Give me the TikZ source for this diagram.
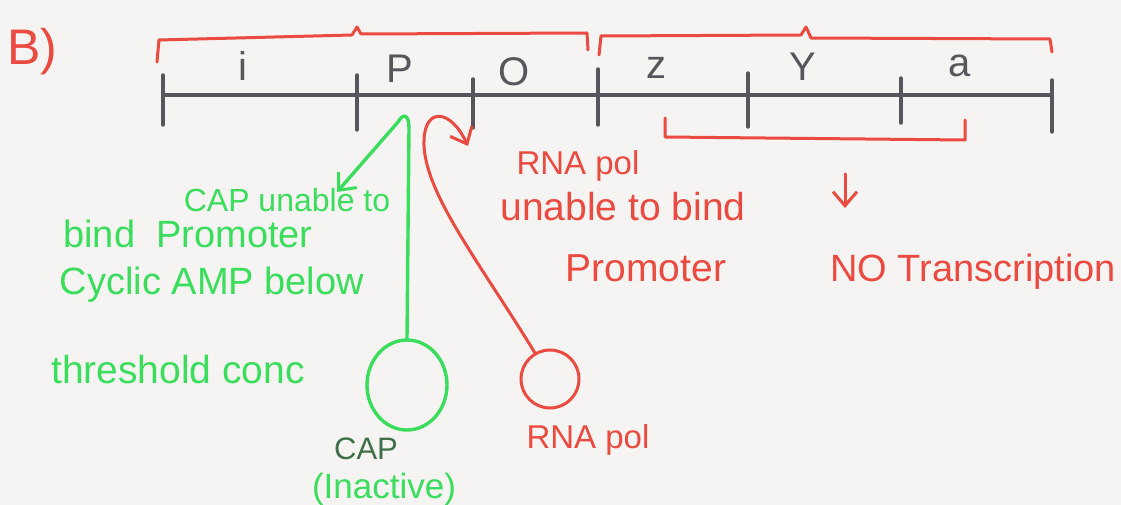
\documentclass[tikz,border=0pt]{standalone}
\usepackage{fontspec}
\setmainfont{Liberation Sans}
\usetikzlibrary{arrows.meta,shapes.geometric}
\definecolor{penred}{RGB}{234,74,64}
\definecolor{pengreen}{RGB}{58,222,92}
\definecolor{pengray}{RGB}{88,86,92}
\definecolor{capdark}{RGB}{62,112,72}
\definecolor{paper}{RGB}{245,244,242}
\begin{document}
\begin{tikzpicture}[x=1pt,y=-1pt,
  fs/.style={font=\fontsize{#1}{#1}\selectfont},
  txt/.style={inner sep=0pt},
  redtxt/.style={txt,text=penred},
  greentxt/.style={txt,text=pengreen},
  graytxt/.style={txt,text=pengray},
  dna/.style={draw=pengray,line width=3.4pt,line cap=round},
  redline/.style={draw=penred,line width=3pt,line cap=round,line join=round},
  greenline/.style={draw=pengreen,line width=3.4pt,line cap=round,line join=round},
  barb/.style={-{Straight Barb[length=14pt,width=24pt,line width=3pt]}}
]
\fill[paper] (0,0) rectangle (1121,505);
\useasboundingbox (0,0) rectangle (1121,505);

% title
\node[redtxt,fs=50] (title) at (32,52) {B)};

% DNA line and ticks
\coordinate (t0) at (163,95);
\coordinate (t1) at (357,95);
\coordinate (t2) at (473,95);
\coordinate (t3) at (598,95);
\coordinate (t4) at (748,95);
\coordinate (t5) at (901,95);
\coordinate (t6) at (1052,95);
\draw[dna] (t0) -- (t6);
\draw[dna] ([yshift=-30pt]t0) -- ([yshift=20pt]t0);
\draw[dna] ([yshift=-35pt]t1) -- ([yshift=20pt]t1);
\draw[dna] ([yshift=-33pt]t2) -- ([yshift=16pt]t2);
\draw[dna] ([yshift=-30pt]t3) -- ([yshift=26pt]t3);
\draw[dna] ([yshift=-32pt]t4) -- ([yshift=22pt]t4);
\draw[dna] ([yshift=-28pt]t5) -- ([yshift=17pt]t5);
\draw[dna] ([yshift=-37pt]t6) -- ([yshift=15pt]t6);

% gene labels
\node[graytxt,fs=40] (gi) at (243,66) {i};
\node[graytxt,fs=40] (gp) at (400,69) {P};
\node[graytxt,fs=40] (go) at (514,72) {O};
\node[graytxt,fs=40] (gz) at (656,68) {z};
\node[graytxt,fs=40] (gy) at (803,67) {Y};
\node[graytxt,fs=40] (ga) at (960,66) {a};

% top braces
\draw[redline] (157,62) -- (159,40) -- (352,35) -- (357,27) -- (361,34) -- (587,33) -- (588,50);
\draw[redline] (599,55) -- (601,36) -- (801,35) -- (806,27) -- (811,38) -- (1050,39) -- (1052,52);

% lower bracket
\coordinate (bl) at (665,118);
\coordinate (br) at (965,120);
\draw[redline] (bl) -- (665,137) -- (965,140) -- (br);

% arrow to no transcription
\coordinate (nta) at (845,174);
\coordinate (ntb) at (845,208);
\draw[redline,barb] (nta) -- (ntb);
\node[redtxt,fs=38] (notr) at (973,272) {NO Transcription};

% RNA pol texts
\node[redtxt,fs=33] (rp1) at (578,166) {RNA pol};
\node[redtxt,fs=39] (rp2) at (623,207) {unable to bind};
\node[redtxt,fs=39] (rp3) at (646,268) {Promoter};

% RNA pol circle
\node[draw=penred,line width=3pt,circle,minimum size=58pt,inner sep=0pt] (rnap) at (550,379) {};
\node[redtxt,fs=33] (rnaplbl) at (588,440) {RNA pol};
\coordinate (rtip) at (468,146);
\draw[redline,barb] (rnap.120) .. controls (478,260) and (422,190) .. (424,140)
  .. controls (425,108) and (450,108) .. (rtip);

% CAP circle
\node[draw=pengreen,line width=3.4pt,ellipse,minimum width=80pt,minimum height=90pt,inner sep=0pt] (cap) at (407,385) {};
\node[txt,text=capdark,fs=31] (caplbl) at (366,449) {CAP};
\node[greentxt,fs=35] (inact) at (384,489) {(Inactive)};
\coordinate (gtip) at (337,192);
\draw[greenline,barb] (cap.north) -- (409,128) .. controls (409,114) and (403,113) .. (398,122) -- (gtip);

% green texts
\node[greentxt,fs=32] (cu) at (287,200) {CAP unable to};
\node[greentxt,fs=38] (bp) at (188,234) {bind~ Promoter};
\node[greentxt,fs=38] (cy) at (212,285) {Cyclic AMP below};
\node[greentxt,fs=39] (th) at (178,370) {threshold conc};
\end{tikzpicture}
\end{document}
